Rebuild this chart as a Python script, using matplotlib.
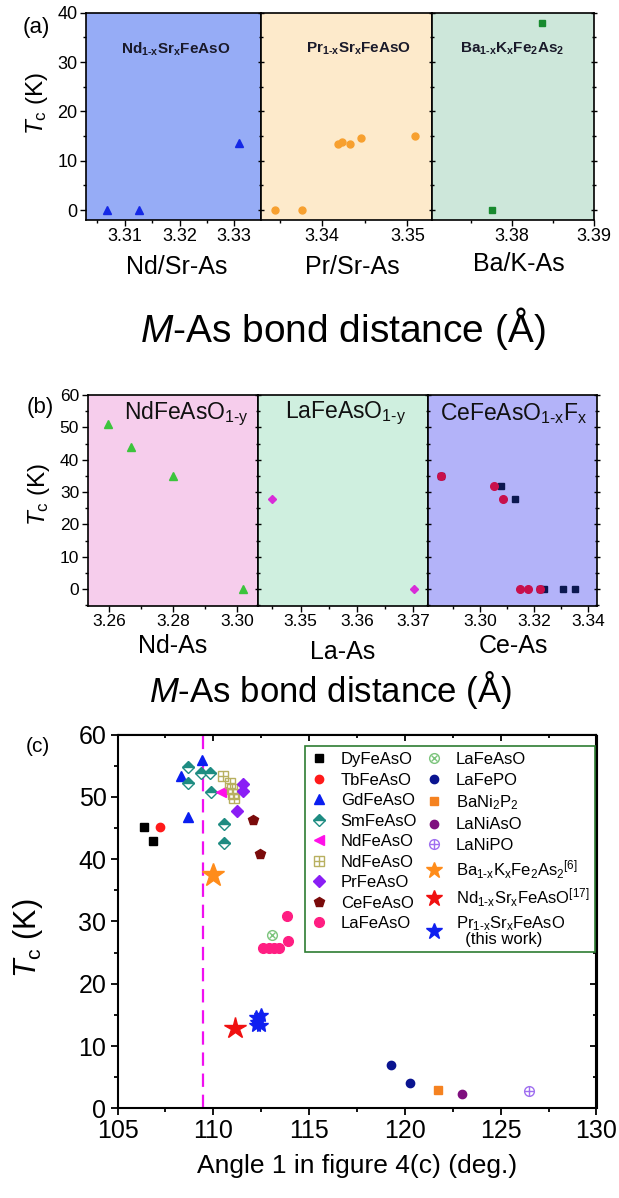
import matplotlib
matplotlib.use('Agg')
import matplotlib.pyplot as plt
from matplotlib.ticker import MultipleLocator, FormatStrFormatter
from matplotlib.legend_handler import HandlerTuple
from matplotlib.lines import Line2D

plt.rcParams['font.family'] = ['Liberation Sans', 'DejaVu Sans']
plt.rcParams['mathtext.fontset'] = 'custom'
plt.rcParams['mathtext.rm'] = 'Liberation Sans'
plt.rcParams['mathtext.it'] = 'Liberation Sans:italic'
plt.rcParams['mathtext.bf'] = 'Liberation Sans:bold'
plt.rcParams['mathtext.default'] = 'regular'

W, H = 619, 1198
HY = '\u2010'  # short hyphen for the "1-x" subscripts

# (a) Tc vs M-As distance, Sr / K substituted
nd_sr_d = [3.3067, 3.3125, 3.3309]
nd_sr_tc = [0, 0, 13.5]
pr_sr_d = [3.3345, 3.3376, 3.3419, 3.3423, 3.3433, 3.3446, 3.3509]
pr_sr_tc = [0, 0, 13.4, 13.9, 13.4, 14.6, 15.0]
ba_k_d = [3.3775, 3.3837]
ba_k_tc = [0, 37.9]

# (b) oxygen deficient / F doped
nd_oy_d = [3.2598, 3.2669, 3.2800, 3.3019]
nd_oy_tc = [51, 44, 35, 0]
la_oy_d = [3.3450, 3.3701]
la_oy_tc = [28, 0]
ce_f_sq_d = [3.2856, 3.3077, 3.3129, 3.3220, 3.3238, 3.3305, 3.3352]
ce_f_sq_tc = [35, 32, 28, 0, 0, 0, 0]
ce_f_ci_d = [3.2856, 3.3051, 3.3085, 3.3146, 3.3177, 3.3223]
ce_f_ci_tc = [35, 32, 28, 0, 0, 0]

# (c) Tc vs angle 1
dy_ang, dy_tc = [106.40, 106.85], [45.2, 42.9]
tb_ang, tb_tc = [107.20], [45.1]
gd_ang, gd_tc = [108.30, 108.70, 109.43], [53.3, 46.8, 55.9]
sm_ang = [108.66, 108.65, 109.36, 109.81, 109.90, 110.54, 110.54]
sm_tc = [54.8, 52.2, 53.8, 53.8, 50.8, 45.7, 42.6]
nd1_ang, nd1_tc = [110.40], [50.8]
nd2_ang = [110.50, 110.85, 110.95, 111.05, 111.10]
nd2_tc = [53.3, 52.2, 51.3, 50.4, 49.8]
pr_ang, pr_tc = [111.55, 111.55, 111.25], [52.0, 50.9, 47.8]
ce_ang, ce_tc = [112.05, 112.45], [46.3, 40.8]
la_ang = [112.57, 112.88, 113.18, 113.44, 113.92, 113.82]
la_tc = [25.8, 25.8, 25.8, 25.8, 26.8, 30.8]
la2_ang, la2_tc = [113.04], [27.8]
lafepo_ang, lafepo_tc = [119.29, 120.27], [6.9, 4.0]
bani2p2_ang, bani2p2_tc = [121.71], [2.9]
laniaso_ang, laniaso_tc = [123.00], [2.3]
lanipo_ang, lanipo_tc = [126.50], [2.8]
bak_ang, bak_tc = [109.97], [37.5]
ndsr_ang, ndsr_tc = [111.12], [12.9]
prsr_ang = [112.20, 112.50, 112.30, 112.25, 112.50]
prsr_tc = [13.4, 13.4, 13.9, 14.6, 15.0]
tetra_angle = 109.47

fig = plt.figure(figsize=(W / 100, H / 100), dpi=100)


def px_rect(l, t, r, b):
    return [l / W, 1 - b / H, (r - l) / W, (b - t) / H]


def ftext(x, y, s, **kw):
    kw.setdefault('ha', 'center')
    kw.setdefault('va', 'center')
    return fig.text(x / W, 1 - y / H, s, **kw)


def broken_panel(edges, top, bottom, xlims, ylim, colors, majors, minors, fs):
    axs = []
    for i in range(3):
        ax = fig.add_axes(px_rect(edges[i], top, edges[i + 1], bottom))
        ax.set_facecolor(colors[i])
        ax.set_xlim(xlims[i])
        ax.set_ylim(ylim)
        ax.xaxis.set_major_locator(MultipleLocator(majors[i]))
        ax.xaxis.set_minor_locator(MultipleLocator(minors[i]))
        ax.xaxis.set_major_formatter(FormatStrFormatter('%.2f'))
        ax.yaxis.set_major_locator(MultipleLocator(10))
        ax.yaxis.set_minor_locator(MultipleLocator(5))
        ax.yaxis.set_major_formatter(FormatStrFormatter('%d'))
        for sp in ax.spines.values():
            sp.set_linewidth(1.2)
        ax.tick_params(axis='x', which='both', direction='out', labelsize=fs,
                       pad=2, width=1)
        ax.tick_params(axis='x', which='major', length=4)
        ax.tick_params(axis='x', which='minor', length=2.5)
        if i == 0:
            ax.tick_params(axis='y', which='both', direction='out',
                           labelsize=fs, pad=2, width=1)
        else:
            ax.tick_params(axis='y', which='both', direction='inout',
                           labelleft=False, width=1, right=(i == 2))
        ax.tick_params(axis='y', which='major', length=4)
        ax.tick_params(axis='y', which='minor', length=2.5)
        axs.append(ax)
    return axs


# ---------------- (a) ----------------
axa = broken_panel([86, 261, 432, 594], 12.7, 220,
                   [(3.3029, 3.3349), (3.3328, 3.3529), (3.3702, 3.3900)],
                   (-2, 40), ['#96ACF6', '#FDEACB', '#CDE7DA'],
                   [0.01, 0.01, 0.01], [0.005, 0.005, 0.005], 13)
axa[0].plot(nd_sr_d, nd_sr_tc, ls='none', marker='^', ms=6,
            color='#1428E6', mec='#1428E6')
axa[1].plot(pr_sr_d, pr_sr_tc, ls='none', marker='o', ms=5,
            color='#F7A02F', mec='#F7A02F')
axa[2].plot(ba_k_d, ba_k_tc, ls='none', marker='s', ms=4,
            color='#178A2E', mec='#178A2E')
a_titles = [r'$\mathbf{Nd_{1%sx}Sr_{x}FeAsO}$' % HY,
            r'$\mathbf{Pr_{1%sx}Sr_{x}FeAsO}$' % HY,
            r'$\mathbf{Ba_{1%sx}K_{x}Fe_{2}As_{2}}$' % HY]
for ax, s, fx in zip(axa, a_titles, [0.513, 0.571, 0.493]):
    ax.text(fx, 0.824, s, transform=ax.transAxes, ha='center', va='center',
            fontsize=11, color='#1A1A2A')

ftext(36, 27, '(a)', fontsize=16)
ftext(37, 103, r'$\mathit{T}_{\rm c}$ (K)', fontsize=17.5, rotation=90)
ftext(177, 267, 'Nd/Sr-As', fontsize=18)
ftext(352, 267, 'Pr/Sr-As', fontsize=18)
ftext(519, 264, 'Ba/K-As', fontsize=18)
ftext(343, 342, r'$\mathit{M}$-As bond distance (Å)', fontsize=28,
      va='baseline')

# ---------------- (b) ----------------
axb = broken_panel([87.5, 257.8, 427.8, 597], 395, 606,
                   [(3.2533, 3.3064), (3.3424, 3.3726), (3.2807, 3.3432)],
                   (-5.2, 60), ['#F6CDEC', '#CFEFDF', '#B3B3F9'],
                   [0.02, 0.01, 0.02], [0.01, 0.005, 0.01], 12.5)
axb[0].plot(nd_oy_d, nd_oy_tc, ls='none', marker='^', ms=6,
            color='#3CC43C', mec='#3CC43C')
axb[1].plot(la_oy_d, la_oy_tc, ls='none', marker='D', ms=4.5,
            color='#D82CD8', mec='#D82CD8')
axb[2].plot(ce_f_sq_d, ce_f_sq_tc, ls='none', marker='s', ms=5,
            color='#0C1850', mec='#0C1850')
axb[2].plot(ce_f_ci_d, ce_f_ci_tc, ls='none', marker='o', ms=5.5,
            color='#C8104C', mec='#C8104C')
b_titles = [r'NdFeAsO$_{1%sy}$' % HY, r'LaFeAsO$_{1%sy}$' % HY,
            r'CeFeAsO$_{1%sx}$F$_{x}$' % HY]
for ax, s, fx in zip(axb, b_titles, [0.582, 0.515, 0.506]):
    ax.text(fx, 0.913, s, transform=ax.transAxes, ha='center', va='center',
            fontsize=16.5, color='#111111')

ftext(40, 407, '(b)', fontsize=16)
ftext(39, 494, r'$\mathit{T}_{\rm c}$ (K)', fontsize=17.5, rotation=90)
ftext(173, 646, 'Nd-As', fontsize=18)
ftext(343, 652, 'La-As', fontsize=18)
ftext(513, 646, 'Ce-As', fontsize=18)
ftext(331, 702, r'$\mathit{M}$-As bond distance (Å)', fontsize=25,
      va='baseline')

# ---------------- (c) ----------------
axc = fig.add_axes(px_rect(117.6, 734.5, 596.5, 1108.3))
axc.set_xlim(105, 130)
axc.set_ylim(0, 60)
axc.xaxis.set_major_locator(MultipleLocator(5))
axc.xaxis.set_minor_locator(MultipleLocator(2.5))
axc.yaxis.set_major_locator(MultipleLocator(10))
axc.yaxis.set_minor_locator(MultipleLocator(5))
for sp in axc.spines.values():
    sp.set_linewidth(1.5)
axc.tick_params(which='both', direction='out', labelsize=18, width=1.3)
axc.tick_params(axis='x', pad=3)
axc.tick_params(axis='y', pad=3)
axc.tick_params(which='major', length=5)
axc.tick_params(which='minor', length=3)

# mirrored inward ticks on top and right
topx = axc.secondary_xaxis('top')
topx.xaxis.set_major_locator(MultipleLocator(5))
topx.xaxis.set_minor_locator(MultipleLocator(2.5))
topx.tick_params(which='both', direction='in', labeltop=False, width=1.3)
topx.tick_params(which='major', length=5)
topx.tick_params(which='minor', length=3)
rgty = axc.secondary_yaxis('right')
rgty.yaxis.set_major_locator(MultipleLocator(10))
rgty.yaxis.set_minor_locator(MultipleLocator(5))
rgty.tick_params(which='both', direction='in', labelright=False, width=1.3)
rgty.tick_params(which='major', length=5)
rgty.tick_params(which='minor', length=3)

axc.axvline(tetra_angle, color='#F010F0', lw=1.6, dashes=(6, 3.5), zorder=1)

khaki = '#B8B060'
lagreen = '#7CC47C'
lavender = '#A070F0'


def pts(x, y, **kw):
    kw.setdefault('ls', 'none')
    return axc.plot(x, y, **kw)[0]


h_dy = pts(dy_ang, dy_tc, marker='s', ms=5.5, color='black')
h_tb = pts(tb_ang, tb_tc, marker='o', ms=6, color='#FF1A1A')
h_gd = pts(gd_ang, gd_tc, marker='^', ms=7.5, color='#0A1EF0')
h_sm = pts(sm_ang, sm_tc, marker='D', ms=6, color='#1E8C82', fillstyle='top',
           markerfacecoloralt='white', mec='#1E8C82')
h_nd1 = pts(nd1_ang, nd1_tc, marker='<', ms=7.5, color='#FF10E8')
h_nd2a = pts(nd2_ang, nd2_tc, marker='s', ms=6.5, mfc='none', mec=khaki, mew=1)
h_nd2b = pts(nd2_ang, nd2_tc, marker='+', ms=7, color=khaki, mew=1)
h_pr = pts(pr_ang, pr_tc, marker='D', ms=6, color='#8A1EF5')
h_ce = pts(ce_ang, ce_tc, marker='p', ms=7.5, color='#7A0A0A')
h_la = pts(la_ang, la_tc, marker='o', ms=7, color='#FF1E82')
h_la2a = pts(la2_ang, la2_tc, marker='o', ms=7, mfc='none', mec=lagreen, mew=1)
h_la2b = pts(la2_ang, la2_tc, marker='x', ms=5, color=lagreen, mew=1)
h_lafepo = pts(lafepo_ang, lafepo_tc, marker='o', ms=6, color='#0A1490')
h_bani = pts(bani2p2_ang, bani2p2_tc, marker='s', ms=5.5, color='#F58220')
h_laniaso = pts(laniaso_ang, laniaso_tc, marker='o', ms=6, color='#7F0F7F')
h_lanipoa = pts(lanipo_ang, lanipo_tc, marker='o', ms=7, mfc='none',
                mec=lavender, mew=1)
h_lanipob = pts(lanipo_ang, lanipo_tc, marker='+', ms=7, color=lavender, mew=1)
h_bak = pts(bak_ang, bak_tc, marker='*', ms=17, color='#FF8C1A')
h_ndsr = pts(ndsr_ang, ndsr_tc, marker='*', ms=16, color='#F01010')
h_prsr = pts(prsr_ang, prsr_tc, marker='*', ms=10, color='#1020F0')


def leg_h(h, ms=None):
    return Line2D([], [], ls='none', marker=h.get_marker(),
                  ms=ms or h.get_markersize(), mfc=h.get_markerfacecolor(),
                  mec=h.get_markeredgecolor(), mew=h.get_markeredgewidth(),
                  fillstyle=h.get_fillstyle(),
                  markerfacecoloralt=h.get_markerfacecoloralt())


handles = [leg_h(h_dy), leg_h(h_tb), leg_h(h_gd), leg_h(h_sm), leg_h(h_nd1),
           (leg_h(h_nd2a), leg_h(h_nd2b)), leg_h(h_pr), leg_h(h_ce),
           leg_h(h_la),
           (leg_h(h_la2a), leg_h(h_la2b)), leg_h(h_lafepo), leg_h(h_bani),
           leg_h(h_laniaso), (leg_h(h_lanipoa), leg_h(h_lanipob)),
           leg_h(h_bak, 12), leg_h(h_ndsr, 12), leg_h(h_prsr, 12)]
labels = ['DyFeAsO', 'TbFeAsO', 'GdFeAsO', 'SmFeAsO', 'NdFeAsO', 'NdFeAsO',
          'PrFeAsO', 'CeFeAsO', 'LaFeAsO',
          'LaFeAsO', 'LaFePO', r'BaNi$_2$P$_2$', 'LaNiAsO', 'LaNiPO',
          r'Ba$_{1%sx}$K$_x$Fe$_2$As$_2{}^{[6]}$' % HY,
          r'Nd$_{1%sx}$Sr$_x$FeAsO$^{[17]}$' % HY,
          'Pr$_{1%sx}$Sr$_x$FeAsO\n  (this work)' % HY]
leg = axc.legend(handles, labels, ncol=2, loc='upper left',
                 bbox_to_anchor=(0.391, 0.968), borderaxespad=0,
                 fontsize=12, handlelength=1.0, handletextpad=0.8,
                 columnspacing=0.5, labelspacing=0.33, borderpad=0.35,
                 fancybox=False, framealpha=1, edgecolor='#2E7D32',
                 handler_map={tuple: HandlerTuple(ndivide=1, pad=0)})
leg.get_frame().set_linewidth(1.2)
leg.get_texts()[-1].set_linespacing(0.85)

ftext(38, 746, '(c)', fontsize=15)
ftext(28, 938, r'$\mathit{T}_{\rm c}$ (K)', fontsize=22, rotation=90)
ftext(357, 1173, 'Angle 1 in figure 4(c) (deg.)', fontsize=19,
      va='baseline')

fig.savefig('out.png', dpi=100)
